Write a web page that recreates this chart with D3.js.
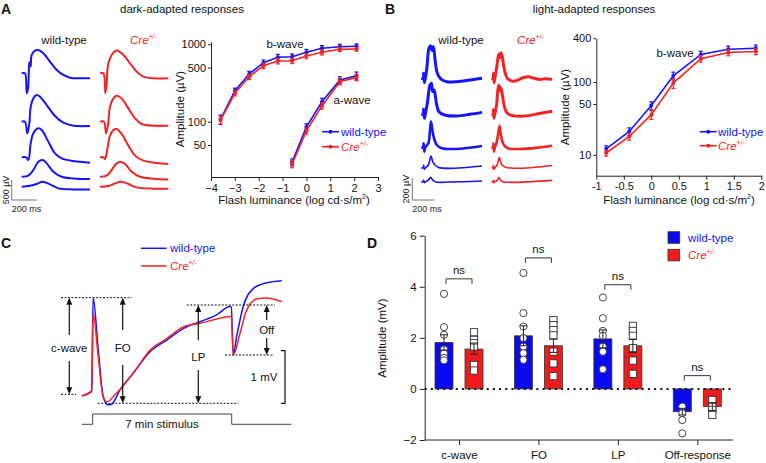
<!DOCTYPE html>
<html><head><meta charset="utf-8">
<script src="https://cdn.jsdelivr.net/npm/d3@7"></script>
<style>body{margin:0;background:#fff}svg{font-family:"Liberation Sans",Arial,sans-serif}</style>
</head><body><svg id="c" width="766" height="463"></svg>
<script>
// ---------- DATA ----------
// Panel A: dark-adapted intensity-response
const xDarkB = [-3.6,-3,-2.4,-1.8,-1.2,-0.6,0,0.65,1.4,2.1];
const bWaveDarkWT = [107,251,413,578,680,692,789,888,931,942];
const bWaveDarkWTerr = [15,20,35,50,60,60,70,75,70,70];
const bWaveDarkCre = [105,233,380,530,608,614,706,789,861,869];
const bWaveDarkCreErr = [12,18,30,45,50,50,55,60,55,55];
const xDarkA = [-0.6,0,0.65,1.4,2.1];
const aWaveDarkWT = [30,86,181,346,393];
const aWaveDarkWTerr = [3,8,20,35,45];
const aWaveDarkCre = [28.4,76,160,329,374];
const aWaveDarkCreErr = [3,7,15,30,35];
const xTicksA = [-4,-3,-2,-1,0,1,2,3];
const yTicksA = [50,100,500,1000];

// Panel B: light-adapted intensity-response
const xLight = [-0.82,-0.4,0,0.4,0.9,1.4,1.9];
const bWaveLightWT = [12.1,21,47.6,122,240,283,292];
const bWaveLightWTerr = [1.2,2.5,6,15,25,30,30];
const bWaveLightCre = [10.6,17.9,35.7,97,210,255,263];
const bWaveLightCreErr = [1,2,5,15,22,25,25];
const xTicksB = [-1,-0.5,0,0.5,1,1.5,2];
const yTicksB = [10,50,100,400];

// Panel A traces [ms, µV]
const darkTracesWT = [
 [[0,0],[26,0],[40,-500],[51,-375],[61,250],[67,290],[72,170],[80,458],[106,567],[133,583],[173,500],[226,292],[280,83],[333,-42],[386,-110],[466,-125],[546,-125]],
 [[0,0],[26,0],[45,-292],[61,-42],[72,375],[93,583],[120,667],[146,625],[200,417],[266,142],[333,-25],[413,-100],[546,-108]],
 [[0,0],[35,0],[53,-67],[72,350],[93,600],[133,725],[160,683],[213,392],[266,100],[320,-25],[413,-92],[546,-135]],
 [[0,0],[53,25],[93,167],[133,375],[168,417],[200,333],[253,125],[320,0],[413,-42],[546,-58]],
 [[0,0],[66,25],[120,67],[168,125],[226,58],[293,-42],[413,-67],[546,-67]]
];
const darkTracesCre = [
 [[0,0],[27,0],[43,-500],[55,-200],[59,83],[67,250],[93,458],[133,567],[187,458],[240,250],[293,42],[347,-83],[427,-125],[546,-125]],
 [[0,0],[32,0],[48,-292],[64,-83],[80,375],[107,583],[133,650],[173,583],[227,333],[280,83],[333,-58],[427,-100],[546,-100]],
 [[0,0],[27,0],[40,-42],[59,208],[80,542],[107,683],[133,708],[173,583],[227,292],[280,42],[347,-83],[453,-142],[546,-167]],
 [[0,0],[53,25],[93,167],[133,333],[165,367],[200,317],[253,125],[320,0],[427,-50],[546,-67]],
 [[0,0],[67,17],[120,83],[173,125],[227,67],[293,-17],[427,-50],[546,-50]]
];
// Panel B traces [ms, µV]
const lightTracesWT = [
 [[0,0],[18,0],[21,46],[27,-40],[36,0],[51,107],[69,278],[84,299],[96,256],[108,293],[125,154],[143,46],[174,-6],[227,-31],[316,-31],[436,-16],[543,0]],
 [[0,0],[18,0],[21,43],[27,-40],[36,0],[54,99],[78,269],[90,284],[102,207],[114,222],[138,83],[158,21],[209,-9],[316,-19],[436,-3],[543,15]],
 [[0,0],[18,0],[21,37],[27,-40],[36,0],[63,37],[78,160],[87,237],[99,160],[114,83],[138,21],[183,-9],[316,-15],[543,12]],
 [[0,0],[18,0],[21,25],[27,-15],[39,0],[63,25],[87,108],[102,56],[123,25],[153,3],[257,-6],[543,15]],
 [[0,0],[18,0],[21,15],[27,-9],[39,0],[63,15],[84,40],[102,15],[132,-3],[257,-3],[543,6]]
];
const lightTracesCre = [
 [[0,0],[15,0],[18,45],[22,-40],[30,0],[45,90],[60,200],[68,225],[76,190],[86,235],[96,200],[110,110],[125,40],[145,-5],[180,-25],[230,-20],[280,5],[330,15],[380,0],[430,-10],[480,-5],[543,-10]],
 [[0,0],[15,0],[18,40],[22,-40],[30,0],[45,80],[58,230],[66,265],[75,215],[85,240],[98,170],[115,70],[135,15],[170,-10],[250,-20],[330,-15],[430,5],[543,25]],
 [[0,0],[15,0],[18,35],[22,-40],[30,0],[45,40],[60,130],[72,195],[82,130],[95,60],[115,15],[150,-10],[250,-15],[400,-5],[543,15]],
 [[0,0],[15,0],[18,22],[22,-15],[30,0],[50,25],[70,95],[80,60],[95,25],[125,5],[200,-5],[350,0],[543,20]],
 [[0,0],[15,0],[18,15],[22,-9],[30,0],[50,12],[66,38],[80,15],[100,0],[200,-6],[350,0],[543,12]]
];

// Panel C: DC-ERG traces [min, mV]
const dcWT = [[-0.55,-0.03],[-0.05,0.05],[0.02,1.84],[0.28,0.84],[0.53,-0.05],[0.78,-0.2],[0.95,-0.19],[1.37,0.08],[2.04,0.4],[2.89,0.81],[3.73,1.03],[4.56,1.25],[5.4,1.38],[6.24,1.51],[6.91,1.67],[6.98,1.66],[7.08,0.75],[7.25,1.1],[7.58,1.67],[8.09,2.01],[8.76,2.12],[9.52,2.16]];
const dcCre = [[-0.55,-0.03],[-0.05,0.07],[0.02,1.54],[0.28,0.71],[0.53,-0.05],[0.73,-0.14],[1.12,-0.01],[2.04,0.4],[2.89,0.84],[3.73,1.06],[4.56,1.28],[5.4,1.35],[6.24,1.43],[6.91,1.48],[6.98,1.48],[7.08,0.75],[7.42,1.16],[7.75,1.6],[8.25,1.81],[8.76,1.83],[9.52,1.76]];

// Panel D: summary bars (mV)
const categories = ["c-wave","FO","LP","Off-response"];
const meanWT = [1.82,2.08,1.96,-0.89];
const semWT = [0.3,0.39,0.35,0.13];
const meanCre = [1.56,1.69,1.69,-0.69];
const semCre = [0.2,0.26,0.26,0.15];
const pointsWT = [[3.72,2.42,2.12,1.55,1.38,1.22,1.12],[4.54,2.97,2.44,1.99,1.66,1.4,1.14],[3.58,2.77,2.27,2.08,1.66,1.46,0.77],[-0.69,-0.95,-1.22,-1.74]];
const pointsCre = [[2.22,1.92,1.79,1.66,0.94,0.72],[2.7,2.5,2.3,2.1,1.46,1.0,0.5],[2.47,2.27,2.08,1.6,1.11,0.59],[-0.43,-0.7,-0.82,-1.02]];
const nsLevel = [4.31,5.13,4.08,0.52];
const yTicksD = [-2,0,2,4,6];

// ---------- DRAW ----------
const BLUE="#1414ff", RED="#f42222";
const svg = d3.select("#c");
const FF = '"Liberation Sans",Arial,sans-serif';

function txt(x,y,s,o={}){
  const t = svg.append("text").attr("x",x).attr("y",y).text(s)
    .attr("font-size",o.size||11.5).attr("fill",o.fill||"#111")
    .attr("text-anchor",o.anchor||"start");
  if(o.weight) t.attr("font-weight",o.weight);
  return t;
}
function creTxt(x,y,size,anchor){
  const t = svg.append("text").attr("x",x).attr("y",y).attr("fill",RED)
    .attr("font-size",size).attr("text-anchor",anchor||"start");
  t.append("tspan").attr("font-style","italic").text("Cre");
  t.append("tspan").attr("font-style","italic").attr("font-size",size*0.6).attr("dy",-size*0.42).text("+/-");
  return t;
}
function styleAxis(g,size){
  g.attr("font-family",FF).attr("font-size",size);
  g.selectAll("path,line").attr("stroke","#222");
  g.selectAll("text").attr("fill","#111");
}

// panel letters and titles
txt(1,14,"A",{size:14,weight:"bold"});
txt(385,14,"B",{size:14,weight:"bold"});
txt(1,248,"C",{size:14,weight:"bold"});
txt(367,248,"D",{size:14,weight:"bold"});
txt(182,13,"dark-adapted responses",{anchor:"middle"});
txt(594,13,"light-adapted responses",{anchor:"middle"});

// ---------- Traces A / B ----------
function traceCol(traces,x0,len,dur,bases,pxPerUnit,unit,color,widths){
  traces.forEach((tr,i)=>{
    const xs = d3.scaleLinear().domain([0,dur]).range([x0,x0+len]);
    const ys = d3.scaleLinear().domain([0,unit]).range([bases[i],bases[i]-pxPerUnit]);
    svg.append("path").datum(tr)
      .attr("d",d3.line().x(d=>xs(d[0])).y(d=>ys(d[1])).curve(d3.curveCatmullRom.alpha(0.5)))
      .attr("fill","none").attr("stroke",color).attr("stroke-width",widths[i])
      .attr("stroke-linejoin","round");
  });
}
const basesA=[73.3,121.7,157.3,176.7,186.7];
traceCol(darkTracesWT,21.7,68.3,546,basesA,20,500,BLUE,[2,2,2,2,2]);
traceCol(darkTracesCre,100,68.3,546,basesA,20,500,RED,[2,2,2,2,2]);
const basesB=[78.3,114,147.3,167.7,181.7];
traceCol(lightTracesWT,421.3,60.7,543,basesB,21.7,200,BLUE,[3,3,2.6,1.6,1.6]);
traceCol(lightTracesCre,491.5,60.7,543,basesB,21.7,200,RED,[3,3,2.6,1.6,1.6]);

txt(64,44,"wild-type",{anchor:"middle"});
creTxt(130,44,11.5);
txt(461,44,"wild-type",{anchor:"middle"});
creTxt(517,44,11.5);

// scale bars
function scaleBar(x,yTop,yBot,xEnd,vLabel){
  svg.append("path").attr("d",`M${x},${yTop}V${yBot}H${xEnd}`).attr("fill","none").attr("stroke","#777").attr("stroke-width",1);
  svg.append("text").attr("transform",`translate(${x-3},${(yTop+yBot)/2}) rotate(-90)`)
    .attr("text-anchor","middle").attr("font-size",9).attr("fill","#222").text(vLabel);
  txt(x,212,"200 ms",{size:9,fill:"#222"});
}
scaleBar(11.7,180,200,36.7,"500 µV");
scaleBar(412.3,178.3,200,434.7,"200 µV");

// ---------- intensity-response charts ----------
function irSeries(x,y,xs,vals,errs,color){
  const g = svg.append("g");
  g.append("path").datum(vals.map((v,i)=>[xs[i],v]))
    .attr("d",d3.line().x(d=>x(d[0])).y(d=>y(d[1])))
    .attr("fill","none").attr("stroke",color).attr("stroke-width",1.6);
  vals.forEach((v,i)=>{
    const cx=x(xs[i]), y1=y(v+errs[i]), y2=y(v-errs[i]);
    g.append("line").attr("x1",cx).attr("x2",cx).attr("y1",y1).attr("y2",y2).attr("stroke",color).attr("stroke-width",1.2);
    [y1,y2].forEach(yy=>g.append("line").attr("x1",cx-2).attr("x2",cx+2).attr("y1",yy).attr("y2",yy).attr("stroke",color).attr("stroke-width",1.2));
    g.append("circle").attr("cx",cx).attr("cy",y(v)).attr("r",2).attr("fill",color);
  });
}
function legendLine(x,y,color){
  svg.append("line").attr("x1",x).attr("x2",x+17).attr("y1",y).attr("y2",y).attr("stroke",color).attr("stroke-width",1.6);
  svg.append("circle").attr("cx",x+8.5).attr("cy",y).attr("r",2).attr("fill",color);
}

// Panel A chart
const xA = d3.scaleLinear().domain([-4,3]).range([211,378]);
const yA = d3.scaleLog().domain([100,1000]).range([121.7,44.3]);
yA.domain([yA.invert(177),yA.invert(42)]).range([177,42]);
let gx = svg.append("g").attr("transform","translate(0,177)")
  .call(d3.axisBottom(xA).tickValues(xTicksA).tickFormat(d3.format("d")).tickSize(4).tickSizeOuter(0));
styleAxis(gx,11);
let gy = svg.append("g").attr("transform","translate(211,0)")
  .call(d3.axisLeft(yA).tickValues(yTicksA).tickFormat(d3.format("d")).tickSize(3).tickPadding(2).tickSizeOuter(0));
styleAxis(gy,11);
irSeries(xA,yA,xDarkB,bWaveDarkWT,bWaveDarkWTerr,BLUE);
irSeries(xA,yA,xDarkB,bWaveDarkCre,bWaveDarkCreErr,RED);
irSeries(xA,yA,xDarkA,aWaveDarkWT,aWaveDarkWTerr,BLUE);
irSeries(xA,yA,xDarkA,aWaveDarkCre,aWaveDarkCreErr,RED);
txt(285,48,"b-wave",{anchor:"middle"});
txt(352,104,"a-wave",{anchor:"middle"});
legendLine(322,131.7,BLUE); txt(341,135.7,"wild-type",{fill:BLUE});
legendLine(322,146.7,RED); creTxt(341,150.7,11.5);
svg.append("text").attr("transform","translate(184,109) rotate(-90)").attr("text-anchor","middle")
  .attr("font-size",11.5).attr("fill","#111").text("Amplitude (µV)");
function lumTitle(cx){
  const t = svg.append("text").attr("x",cx).attr("y",204).attr("text-anchor","middle").attr("font-size",11.5).attr("fill","#111");
  t.append("tspan").text("Flash luminance (log cd·s/m");
  t.append("tspan").attr("font-size",7).attr("dy",-5).text("2");
  t.append("tspan").attr("dy",5).text(")");
}
lumTitle(294);

// Panel B chart
const xB = d3.scaleLinear().domain([-1,2]).range([596.3,761.3]);
const yB = d3.scaleLog().domain([10,400]).range([155,39.2]);
yB.domain([yB.invert(175.7),400]).range([175.7,38.3]);
gx = svg.append("g").attr("transform","translate(0,175.7)")
  .call(d3.axisBottom(xB).tickValues(xTicksB).tickFormat(d=>String(d)).tickSize(4).tickSizeOuter(0));
styleAxis(gx,11);
gy = svg.append("g").attr("transform","translate(596.3,0)")
  .call(d3.axisLeft(yB).tickValues(yTicksB).tickFormat(d3.format("d")).tickSize(3).tickPadding(2).tickSizeOuter(0));
styleAxis(gy,11);
irSeries(xB,yB,xLight,bWaveLightWT,bWaveLightWTerr,BLUE);
irSeries(xB,yB,xLight,bWaveLightCre,bWaveLightCreErr,RED);
txt(675,57,"b-wave",{anchor:"middle"});
legendLine(699.7,131.7,BLUE); txt(718,135.7,"wild-type",{fill:BLUE});
legendLine(699.7,145.7,RED); creTxt(718,149.7,11.5);
svg.append("text").attr("transform","translate(569,107) rotate(-90)").attr("text-anchor","middle")
  .attr("font-size",11.5).attr("fill","#111").text("Amplitude (µV)");
lumTitle(679);

// ---------- Panel C ----------
const xC = d3.scaleLinear().domain([0,7]).range([92.7,231.7]);
const yC = d3.scaleLinear().domain([0,1]).range([394.3,341.7]);
const lineC = d3.line().x(d=>xC(d[0])).y(d=>yC(d[1])).curve(d3.curveMonotoneX);
svg.append("path").datum(dcWT).attr("d",lineC).attr("fill","none").attr("stroke",BLUE).attr("stroke-width",1.5);
svg.append("path").datum(dcCre).attr("d",lineC).attr("fill","none").attr("stroke",RED).attr("stroke-width",1.5);
svg.append("line").attr("x1",141).attr("x2",166.7).attr("y1",248.3).attr("y2",248.3).attr("stroke",BLUE).attr("stroke-width",1.5);
txt(170,252.3,"wild-type",{fill:BLUE});
svg.append("line").attr("x1",141).attr("x2",166.7).attr("y1",266).attr("y2",266).attr("stroke",RED).attr("stroke-width",1.5);
creTxt(170,270,11.5);
function dotted(x1,x2,y){
  svg.append("line").attr("x1",x1).attr("x2",x2).attr("y1",y).attr("y2",y).attr("stroke","#111").attr("stroke-width",1).attr("stroke-dasharray","2,1.5");
}
dotted(61,131.7,297.7); dotted(61,76,394.3); dotted(97.7,238.3,403.3); dotted(186.7,275,305); dotted(225,274,355);
function arrow(x,y1,y2,dir){ // dir -1 head up at y2, +1 head down at y2
  svg.append("line").attr("x1",x).attr("x2",x).attr("y1",y1).attr("y2",y2-dir*6).attr("stroke","#111").attr("stroke-width",1.2);
  svg.append("path").attr("d",`M${x-3},${y2-dir*7}L${x+3},${y2-dir*7}L${x},${y2}Z`).attr("fill","#111");
}
arrow(69.3,335,297.7,-1); arrow(69.3,361,394.3,1); txt(69.3,352,"c-wave",{anchor:"middle"});
arrow(122.7,330,297.7,-1); arrow(122.7,365,403.3,1); txt(122.7,352,"FO",{anchor:"middle"});
arrow(198.3,340,305,-1); arrow(198.3,370,403.3,1); txt(198.3,361,"LP",{anchor:"middle"});
arrow(266.7,320,305,-1); arrow(266.7,338,355,1); txt(266.7,334,"Off",{anchor:"middle"});
svg.append("path").attr("d","M281,350.7H285V403.3H281").attr("fill","none").attr("stroke","#111").attr("stroke-width",1.2);
txt(264,381,"1 mV",{anchor:"middle"});
svg.append("path").attr("d",`M${xC(-0.55)},424.3H${xC(0)}V414H${xC(7)}V424.3H${xC(10)}`).attr("fill","none").attr("stroke","#444").attr("stroke-width",1);
txt(162,427.5,"7 min stimulus",{anchor:"middle"});

// ---------- Panel D ----------
const yD = d3.scaleLinear().domain([-2,6]).range([440,235.7]);
const xD = d3.scalePoint().domain(categories).range([459,697.3]);
gy = svg.append("g").attr("transform","translate(424.7,0)")
  .call(d3.axisLeft(yD).tickValues(yTicksD).tickSize(5).tickSizeOuter(0));
styleAxis(gy,11.5);
gx = svg.append("g").attr("transform","translate(0,440)")
  .call(d3.axisBottom(xD).tickSize(5).tickPadding(6).tickSizeOuter(0));
styleAxis(gx,11.5);
gx.select(".domain").attr("d","M424.7,0H733");
svg.append("text").attr("transform","translate(386,338) rotate(-90)").attr("text-anchor","middle")
  .attr("font-size",11.5).attr("fill","#111").text("Amplitude (mV)");
const BW=18, OFF=15;
function barSet(means,sems,pts,dx,color,shape){
  categories.forEach((c,i)=>{
    const cx = xD(c)+dx, y0=yD(0), y1=yD(means[i]);
    svg.append("rect").attr("x",cx-BW/2).attr("width",BW).attr("y",Math.min(y0,y1)).attr("height",Math.abs(y1-y0))
      .attr("fill",color).attr("stroke","#333").attr("stroke-width",0.8);
  });
}
function ptSet(means,sems,pts,dx,shape){
  categories.forEach((c,i)=>{
    const cx = xD(c)+dx;
    pts[i].forEach(v=>{
      if(shape==="c") svg.append("circle").attr("cx",cx).attr("cy",yD(v)).attr("r",3.6).attr("fill","#fff").attr("stroke","#333").attr("stroke-width",0.9);
      else svg.append("rect").attr("x",cx-3.6).attr("y",yD(v)-3.6).attr("width",7.2).attr("height",7.2).attr("fill","#fff").attr("stroke","#333").attr("stroke-width",0.9);
    });
    const ya=yD(means[i]+sems[i]), yb=yD(means[i]-sems[i]);
    svg.append("line").attr("x1",cx).attr("x2",cx).attr("y1",ya).attr("y2",yb).attr("stroke","#222").attr("stroke-width",1);
    [ya,yb].forEach(yy=>svg.append("line").attr("x1",cx-4).attr("x2",cx+4).attr("y1",yy).attr("y2",yy).attr("stroke","#222").attr("stroke-width",1));
  });
}
barSet(meanWT,semWT,pointsWT,-OFF,"#0a0af0");
barSet(meanCre,semCre,pointsCre,OFF,"#ee1c1c");
ptSet(meanWT,semWT,pointsWT,-OFF,"c");
ptSet(meanCre,semCre,pointsCre,OFF,"s");
svg.append("line").attr("x1",424.7).attr("x2",733).attr("y1",yD(0)).attr("y2",yD(0))
  .attr("stroke","#111").attr("stroke-width",2).attr("stroke-dasharray","2,4.2");
categories.forEach((c,i)=>{
  const y=yD(nsLevel[i]), cx=xD(c);
  svg.append("path").attr("d",`M${cx-13},${y+5}V${y}H${cx+13}V${y+5}`).attr("fill","none").attr("stroke","#333").attr("stroke-width",1);
  txt(cx,y-5,"ns",{anchor:"middle"});
});
svg.append("rect").attr("x",668).attr("y",231.7).attr("width",11.7).attr("height",11.6).attr("fill","#0a0af0").attr("stroke","#333").attr("stroke-width",0.8);
txt(688,241.5,"wild-type",{fill:BLUE});
svg.append("rect").attr("x",668).attr("y",249.3).attr("width",11.7).attr("height",11.6).attr("fill","#ee1c1c").attr("stroke","#333").attr("stroke-width",0.8);
creTxt(688,259.2,11.5);
</script></body></html>
